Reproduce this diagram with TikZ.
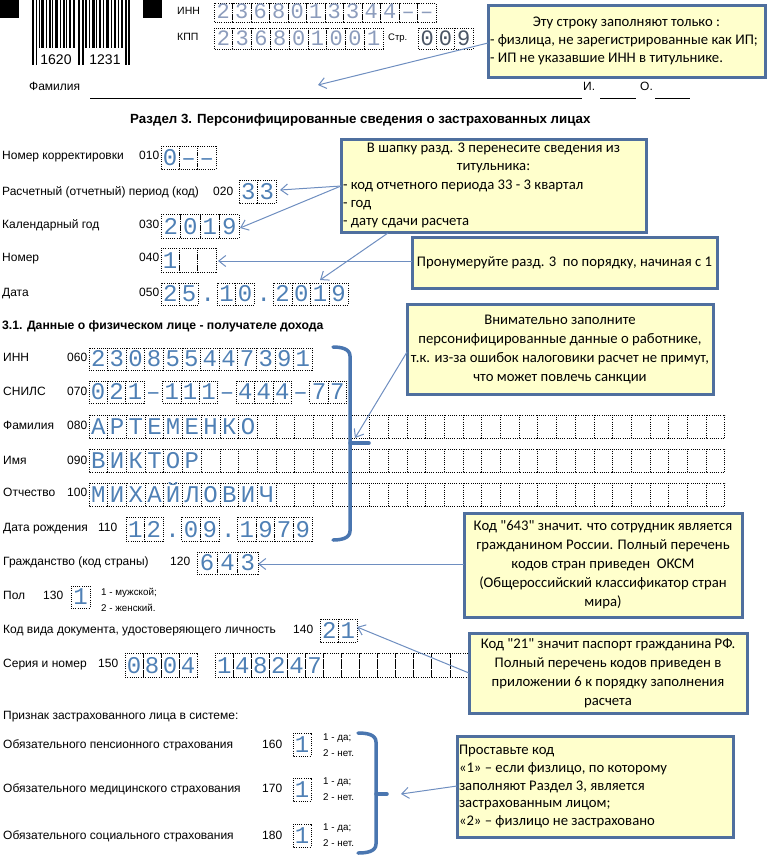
\documentclass[tikz,border=0pt]{standalone}
\usepackage{fontspec}
\setmainfont{Liberation Sans}
\newfontfamily\calfont{Carlito}
\newfontfamily\monofont{Liberation Mono}
\usetikzlibrary{arrows.meta}
\setlength\parindent{0pt}
\definecolor{cellblue}{HTML}{4F80B5}
\definecolor{topgray}{HTML}{8C9CBC}
\definecolor{pagegray}{HTML}{4A5565}
\definecolor{brk}{HTML}{4A76B0}
\definecolor{arr}{HTML}{6E8EC0}
\definecolor{cbord}{HTML}{4F6F9E}
\definecolor{cfill}{HTML}{FFFFCC}
\tikzset{
  lbl/.style={anchor=mid west, inner sep=0pt, font=\fontsize{12}{14}\selectfont},
  toplbl/.style={lbl, font=\fontsize{10.5}{12}\selectfont},
  sml/.style={anchor=mid west, inner sep=0pt, font=\fontsize{9.8}{11}\selectfont},
  head/.style={anchor=mid west, inner sep=0pt, font=\bfseries\fontsize{13.3}{15}\selectfont},
  cellbox/.style={draw=black, line width=0.8pt, dash pattern=on 1pt off 1.2pt},
  dig/.style={anchor=base, inner sep=0pt, text=cellblue, font=\monofont\fontsize{24}{24}\selectfont},
  topdig/.style={dig, text=topgray, font=\monofont\fontsize{22}{22}\selectfont},
  pagedig/.style={topdig, text=pagegray},
  callout/.style={draw=cbord, line width=3pt, fill=cfill, inner xsep=1pt, inner ysep=2pt,
     font=\calfont\fontsize{14.7}{19}\selectfont},
  arrow/.style={draw=arr, line width=1pt, -{Straight Barb[length=7pt,width=11pt]}},
  brace/.style={draw=brk, line width=3.5pt, line cap=round}
}
% #1 style, #2 x0, #3 ytop, #4 ybot, #5 slot width, #6 items box/char
\newcommand\cellrow[6][dig]{%
  \foreach \bx/\ch [count=\i from 0] in {#6} {%
    \pgfmathsetmacro\xa{#2+\i*#5}%
    \pgfmathsetmacro\xb{#2+(\i+1)*#5}%
    \ifnum\bx=1 \draw[cellbox] (\xa,#3) rectangle (\xb,#4);\fi
    \node[#1] at ({(\xa+\xb)/2},{#4-4}) {\ch};
  }}
% #1 x0, #2 ytop, #3 ybot, #4 width, #5 from, #6 to
\newcommand\blankrow[6]{%
  \foreach \i in {#5,...,#6} {%
    \draw[cellbox] ({#1+\i*#4},#2) rectangle ({#1+(\i+1)*#4},#3);
  }}
\begin{document}
\begin{tikzpicture}[x=1pt,y=-1pt]
\useasboundingbox (0,0) rectangle (768,863);
% ---------- barcode
\fill (0,0) rectangle (19,18);
\fill (143,0) rectangle (162,18);
\foreach \bxx/\bw/\bl in {32/2/1, 35.5/1.5/1, 39/1/0, 41/3/0, 46/1/0, 48.5/2/0, 52/1/0, 55/3/0,
   60/1/0, 62.5/2/0, 66/1/0, 69/2/0, 73/1.5/0, 78/2/1, 81.5/2/1, 85/2/0, 89/1/0, 91.5/3/0,
   96/1/0, 99/2/0, 103/1/0, 106/3/0, 111/1/0, 114/2/0, 118/1/0, 121/1.5/0, 125/2/1, 128/2/1}
  {\fill (\bxx,0) rectangle ({\bxx+\bw},{48+17*\bl});}
\node[anchor=base, inner sep=0pt, font=\fontsize{14}{14}\selectfont] (bc1) at (56,64) {1620};
\node[anchor=base, inner sep=0pt, font=\fontsize{14}{14}\selectfont] (bc2) at (105,64) {1231};
% ---------- INN / KPP
\node[toplbl] (linn) at (177,12) {ИНН};
\node[toplbl] (lkpp) at (177,38) {КПП};
\cellrow[topdig]{214}{3}{22}{18.5}{1/2,1/3,1/6,1/8,1/0,1/1,1/3,1/3,1/4,1/4,1/–,1/–}
\cellrow[topdig]{214}{28}{49}{18.8}{1/2,1/3,1/6,1/8,1/0,1/1,1/0,1/0,1/1}
\node[anchor=mid west, inner sep=0pt, font=\fontsize{9.5}{11}\selectfont] (lstr) at (388,38) {Стр.};
\cellrow[pagedig]{418}{28}{49}{18.3}{1/0,1/0,1/9}
% ---------- surname line
\node[lbl] (lfam) at (29,88) {Фамилия};
\draw[line width=1pt] (90,98) -- (582,98);
\node[lbl] (li) at (583,88) {И.};
\draw[line width=1pt] (600,98) -- (636,98);
\node[lbl] (lo) at (640,88) {О.};
\draw[line width=1pt] (655,98) -- (690,98);
% ---------- heading
\node[head] (h1) at (130,121) {Раздел 3. Персонифицированные сведения о застрахованных лицах};
% ---------- fields 010-050
\node[lbl] (l010) at (2,157) {Номер корректировки};
\node[lbl] (n010) at (139,157) {010};
\cellrow{161}{146}{169}{18.3}{1/0,1/–,1/–}
\node[lbl] (l020) at (2,193) {Расчетный (отчетный) период (код)};
\node[lbl] (n020) at (213,193) {020};
\cellrow{239}{180}{203}{18.5}{1/3,1/3}
\node[lbl] (l030) at (2,226) {Календарный год};
\node[lbl] (n030) at (139,226) {030};
\cellrow{161}{214}{238}{19.5}{1/2,1/0,1/1,1/9}
\node[lbl] (l040) at (2,259) {Номер};
\node[lbl] (n040) at (139,259) {040};
\cellrow{161}{248}{272}{18.3}{1/1,1/{},1/{}}
\node[lbl] (l050) at (2,294) {Дата};
\node[lbl] (n050) at (139,294) {050};
\cellrow{161}{283}{305}{18.7}{1/2,1/5,0/.,1/1,1/0,0/.,1/2,1/0,1/1,1/9}
% ---------- 3.1
\node[head, font=\bfseries\fontsize{12.2}{14}\selectfont] (h2) at (2,327) {3.1. Данные о физическом лице - получателе дохода};
\node[lbl] (l060) at (3,359) {ИНН};
\node[lbl] (n060) at (67,359) {060};
\cellrow{89}{348}{370}{18.6}{1/2,1/3,1/0,1/8,1/5,1/5,1/4,1/4,1/7,1/3,1/9,1/1}
\node[lbl] (l070) at (3,393) {СНИЛС};
\node[lbl] (n070) at (67,393) {070};
\cellrow{89}{381}{403}{18.4}{1/0,1/2,1/1,0/–,1/1,1/1,1/1,0/–,1/4,1/4,1/4,0/–,1/7,1/7}
\node[lbl] (l080) at (3,427) {Фамилия};
\node[lbl] (n080) at (67,427) {080};
\cellrow{89}{415}{438}{18.7}{1/А,1/Р,1/Т,1/Е,1/М,1/Е,1/Н,1/К,1/О}
\blankrow{89}{415}{438}{18.7}{9}{33}
\node[lbl] (l090) at (3,462) {Имя};
\node[lbl] (n090) at (67,462) {090};
\cellrow{89}{449}{472}{18.7}{1/В,1/И,1/К,1/Т,1/О,1/Р}
\blankrow{89}{449}{472}{18.7}{6}{33}
\node[lbl] (l100) at (3,494) {Отчество};
\node[lbl] (n100) at (67,494) {100};
\cellrow{89}{483}{506}{18.7}{1/М,1/И,1/Х,1/А,1/Й,1/Л,1/О,1/В,1/И,1/Ч}
\blankrow{89}{483}{506}{18.7}{10}{33}
\node[lbl] (l110) at (3,529) {Дата рождения};
\node[lbl] (n110) at (98,529) {110};
\cellrow{126}{517}{541}{18.6}{1/1,1/2,0/.,1/0,1/9,0/.,1/1,1/9,1/7,1/9}
% bracket 1
\draw[brace] (333,347) to[out=0,in=90] (350,356) -- (350,531) to[out=-90,in=0] (333,540);
\draw[brace] (350,443) -- (369,443);
% ---------- 120-150
\node[lbl] (l120) at (3,563) {Гражданство (код страны)};
\node[lbl] (n120) at (170,563) {120};
\cellrow{197}{552}{574}{20.3}{1/6,1/4,1/3}
\node[lbl] (l130) at (3,597) {Пол};
\node[lbl] (n130) at (43,597) {130};
\cellrow{71}{586}{608}{19}{1/1}
\node[sml] (s130a) at (101,593) {1 - мужской;};
\node[sml] (s130b) at (101,609) {2 - женский.};
\node[lbl] (l140) at (3,631) {Код вида документа, удостоверяющего личность};
\node[lbl] (n140) at (293,631) {140};
\cellrow{320}{619}{642}{18.5}{1/2,1/1}
\node[lbl] (l150) at (3,665) {Серия и номер};
\node[lbl] (n150) at (98,665) {150};
\cellrow{125}{653}{677}{18.05}{1/0,1/8,1/0,1/4,0/{},1/1,1/4,1/8,1/2,1/4,1/7}
\blankrow{125}{653}{677}{18.05}{11}{18}
% ---------- 160-180
\node[lbl] (lpr) at (3,717) {Признак застрахованного лица в системе:};
\node[lbl] (l160) at (3,746) {Обязательного пенсионного страхования};
\node[lbl] (n160) at (262,746) {160};
\cellrow{293}{733}{756}{18}{1/1}
\node[sml] (s160a) at (323,738) {1 - да;};
\node[sml] (s160b) at (323,754) {2 - нет.};
\node[lbl] (l170) at (3,790) {Обязательного медицинского страхования};
\node[lbl] (n170) at (262,790) {170};
\cellrow{293}{778}{801}{18}{1/1}
\node[sml] (s170a) at (323,782) {1 - да;};
\node[sml] (s170b) at (323,798) {2 - нет.};
\node[lbl] (l180) at (3,837) {Обязательного социального страхования};
\node[lbl] (n180) at (262,837) {180};
\cellrow{293}{824}{847}{18}{1/1}
\node[sml] (s180a) at (323,828) {1 - да;};
\node[sml] (s180b) at (323,844) {2 - нет.};
% bracket 2
\draw[brace] (358,733) to[out=0,in=90] (376,742) -- (376,844) to[out=-90,in=0] (358,853);
\draw[brace] (376,794) -- (387,794);
% ---------- callouts
\node[callout, minimum width=277, minimum height=72, align=left, font=\calfont\fontsize{14.7}{18}\selectfont] (c1) at (626.5,41)
  {\makebox[273pt][c]{Эту строку заполняют только :}\\ - физлица, не зарегистрированные как ИП;\\ - ИП не указавшие ИНН в титульнике.};
\node[callout, minimum width=305, minimum height=93, align=left, font=\calfont\fontsize{14.7}{18.2}\selectfont] (c2) at (493.5,185.5)
  {\makebox[301pt][c]{В шапку разд. 3 перенесите сведения из}\\ \makebox[301pt][c]{титульника:}\\ - код отчетного периода 33 - 3 квартал\\ - год\\ - дату сдачи расчета};
\node[callout, minimum width=305, minimum height=51, align=center] (c3) at (564.5,262.5)
  {Пронумеруйте разд. 3\ \ по порядку, начиная с 1};
\node[callout, minimum width=306, minimum height=90, align=center] (c4) at (560,349)
  {Внимательно заполните\\ персонифицированные данные о работнике,\\ т.к. из-за ошибок налоговики расчет не примут,\\ что может повлечь санкции};
\node[callout, minimum width=278, minimum height=104, align=center] (c5) at (603,565)
  {Код "643" значит. что сотрудник является\\ гражданином России. Полный перечень\\ кодов стран приведен\ \ ОКСМ\\ (Общероссийский классификатор стран\\ мира)};
\node[callout, minimum width=278, minimum height=80, align=center] (c6) at (608,673)
  {Код "21" значит паспорт гражданина РФ.\\ Полный перечень кодов приведен в\\ приложении 6 к порядку заполнения\\ расчета};
\node[callout, minimum width=276, minimum height=101, align=left, font=\calfont\fontsize{14.7}{17.8}\selectfont] (c7) at (595,786.5)
  {\makebox[272pt][l]{Проставьте код}\\ «1» – если физлицо, по которому\\ заполняют Раздел 3, является\\ застрахованным лицом;\\ «2» – физлицо не застраховано};
% ---------- arrows
\coordinate (c1s) at (488,43);   \coordinate (t1) at (318,85);
\coordinate (c2s) at (341,186);  \coordinate (t020) at (280,190); \coordinate (t030) at (240,228);
\coordinate (c2b) at (388,233);  \coordinate (t050) at (320,280);
\coordinate (c3s) at (412,261);  \coordinate (t040) at (218,261);
\coordinate (c4s) at (407,352);  \coordinate (tb1) at (355,438);
\coordinate (c5s) at (464,564);  \coordinate (t120) at (258,564);
\coordinate (c6s) at (469,673);  \coordinate (t140) at (357,627);
\coordinate (c7s) at (457,786);  \coordinate (tb2) at (401,794);
\draw[arrow] (c1s) -- (t1);
\draw[arrow] (c2s) -- (t020);
\draw[arrow] (c2s) -- (t030);
\draw[arrow] (c2b) -- (t050);
\draw[arrow] (c3s) -- (t040);
\draw[arrow] (c4s) -- (tb1);
\draw[arrow] (c5s) -- (t120);
\draw[arrow] (c6s) -- (t140);
\draw[arrow] (c7s) -- (tb2);
\end{tikzpicture}
\end{document}
